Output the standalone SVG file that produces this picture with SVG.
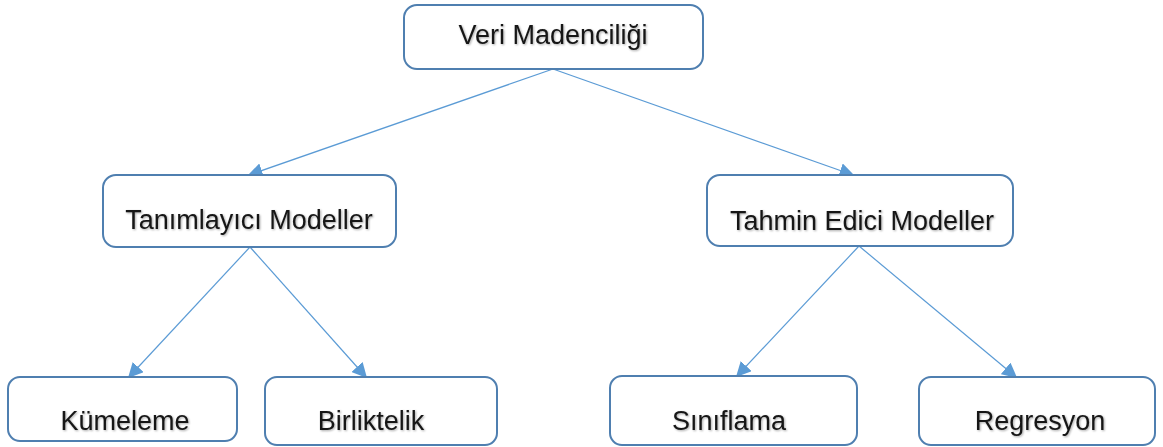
<svg xmlns="http://www.w3.org/2000/svg" width="1163" height="447" viewBox="0 0 1163 447">
  <style>
    .box { fill: #ffffff; stroke: #4f7fb0; stroke-width: 2; }
    .label { font-family: "Liberation Sans", Arial, sans-serif; font-size: 27px; fill: #151515; text-anchor: middle; filter: url(#soft); }
    .link { stroke: #5b9bd5; stroke-width: 1.2; fill: none; marker-end: url(#arrow); }
  </style>
  <defs>
    <marker id="arrow" viewBox="0 0 10 10" refX="9" refY="5" markerWidth="15" markerHeight="15" markerUnits="userSpaceOnUse" orient="auto">
      <path d="M0,0 L10,5 L0,10 Z" fill="#5b9bd5"/>
    </marker>
    <filter id="soft" x="-5%" y="-20%" width="110%" height="140%">
      <feGaussianBlur in="SourceAlpha" stdDeviation="1"/>
      <feOffset dx="1" dy="1" result="sh"/>
      <feComponentTransfer><feFuncA type="linear" slope="0.35"/></feComponentTransfer>
      <feMerge><feMergeNode/><feMergeNode in="SourceGraphic"/></feMerge>
    </filter>
  </defs>
  <rect width="1163" height="447" fill="#ffffff"/>

  <!-- connectors -->
  <g id="connectors">
    <line class="link" x1="553" y1="69" x2="249" y2="175"/>
    <line class="link" x1="553" y1="69" x2="853" y2="175"/>
    <line class="link" x1="250" y1="247" x2="129" y2="377"/>
    <line class="link" x1="250" y1="247" x2="366" y2="377"/>
    <line class="link" x1="859" y1="246" x2="737" y2="376"/>
    <line class="link" x1="859" y1="246" x2="1016" y2="377"/>
  </g>

  <g id="veri-madenciligi">
    <rect class="box" x="404" y="5" width="299" height="64" rx="13"/>
    <text class="label" x="553" y="44">Veri Madenciliği</text>
  </g>
  <g id="tanimlayici-modeller">
    <rect class="box" x="103" y="175" width="293" height="72" rx="13"/>
    <text class="label" x="249" y="229">Tanımlayıcı Modeller</text>
  </g>
  <g id="tahmin-edici-modeller">
    <rect class="box" x="707" y="175" width="306" height="71" rx="13"/>
    <text class="label" x="862" y="230">Tahmin Edici Modeller</text>
  </g>
  <g id="kumeleme">
    <rect class="box" x="8" y="377" width="229" height="64" rx="12"/>
    <text class="label" x="125" y="430">Kümeleme</text>
  </g>
  <g id="birliktelik">
    <rect class="box" x="265" y="377" width="232" height="68" rx="12"/>
    <text class="label" x="371" y="430">Birliktelik</text>
  </g>
  <g id="siniflama">
    <rect class="box" x="610" y="376" width="247" height="69" rx="12"/>
    <text class="label" x="729" y="430">Sınıflama</text>
  </g>
  <g id="regresyon">
    <rect class="box" x="919" y="377" width="236" height="68" rx="12"/>
    <text class="label" x="1040" y="430">Regresyon</text>
  </g>
</svg>
